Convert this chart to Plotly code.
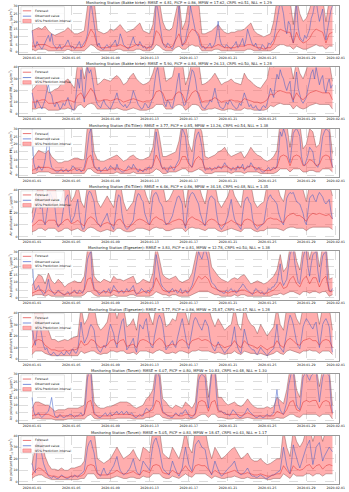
import pandas as pd
import plotly.graph_objects as go
from plotly.subplots import make_subplots

# band/forecast: 8-hourly from 2020-01-01 00:00; observed: 4-hourly.
stations = ["Bakke kirke", "Bakke kirke", "E6-Tiller", "E6-Tiller",
            "Elgeseter", "Elgeseter", "Torvet", "Torvet"]
pollutants = ["2.5", "10", "2.5", "10", "2.5", "10", "2.5", "10"]
rmse = [4.81, 5.90, 3.77, 6.46, 3.83, 5.77, 4.07, 5.05]
picp = [0.86, 0.84, 0.85, 0.86, 0.81, 0.86, 0.80, 0.83]
mpiw = [17.62, 26.13, 13.26, 34.18, 12.78, 25.87, 10.83, 18.47]
crps = [0.51, 0.50, 0.54, 0.48, 0.50, 0.47, 0.48, 0.43]
nll = [1.29, 1.28, 1.38, 1.35, 1.38, 1.28, 1.30, 1.17]
y_max = [30, 40, 30, 40, 30, 40, 30, 40]
y_step = [5, 10, 5, 10, 5, 10, 5, 10]
tick_dates = ["2020-01-01", "2020-01-05", "2020-01-09", "2020-01-13", "2020-01-17",
              "2020-01-21", "2020-01-25", "2020-01-29", "2020-02-01"]

upper_1 = [14, 15, 16, 15, 17, 14, 12, 11, 12, 13,
           14, 16, 14, 12, 12, 13, 14, 30, 36, 34,
           14, 13, 12, 13, 15, 14, 16, 18, 15, 13,
           14, 15, 17, 19, 14, 13, 12, 18, 35, 33,
           20, 15, 14, 16, 25, 35, 15, 20, 34, 36,
           35, 33, 12, 12, 13, 14, 16, 18, 15, 13,
           12, 13, 13, 14, 14, 15, 17, 19, 14, 12,
           11, 10, 11, 12, 20, 34, 36, 35, 33, 34,
           18, 35, 25, 20, 22, 28, 35, 36, 34, 35,
           20, 34, 35]
lower_1 = [2, 1, 2, 2, 2, 1, 1, 1, 1, 1,
           1, 2, 1, 1, 1, 1, 1, 3, 5, 4,
           2, 1, 1, 1, 1, 1, 2, 2, 1, 1,
           1, 1, 2, 2, 1, 1, 1, 2, 5, 4,
           2, 1, 1, 1, 3, 4, 2, 2, 4, 5,
           4, 4, 1, 1, 1, 1, 2, 2, 1, 1,
           1, 1, 1, 1, 1, 1, 2, 2, 1, 1,
           1, 1, 1, 1, 2, 4, 5, 5, 4, 4,
           2, 4, 3, 2, 2, 3, 4, 5, 4, 4,
           2, 4, 4]
forecast_1 = [4, 4, 5, 5, 5, 4, 3, 3, 3, 3,
              4, 4, 4, 3, 3, 3, 4, 10, 15, 12,
              4, 3, 3, 3, 4, 4, 4, 5, 4, 3,
              3, 4, 5, 5, 4, 3, 3, 5, 14, 12,
              6, 4, 3, 4, 8, 12, 5, 6, 12, 15,
              14, 12, 4, 3, 3, 3, 4, 5, 4, 3,
              3, 3, 3, 4, 4, 4, 5, 5, 4, 3,
              3, 2, 3, 3, 6, 12, 15, 14, 13, 13,
              6, 13, 8, 6, 7, 9, 13, 15, 14, 13,
              6, 12, 13]
observed_1 = [14, 6, 3, 7, 5, 3, 2, 4, 6, 9, 11, 7, 12, 5, 4, 2, 3, 5, 2, 3,
              4, 6, 8, 5, 3, 4, 2, 3, 5, 7, 3, 5, 6, 8, 12, 24, 33, 26, 18, 9,
              4, 6, 3, 2, 2, 4, 5, 3, 3, 5, 6, 8, 4, 6, 12, 9, 5, 4, 3, 2,
              4, 7, 10, 6, 5, 4, 7, 5, 3, 4, 2, 3, 4, 3, 6, 14, 32, 28, 20, 12,
              6, 4, 3, 6, 5, 3, 2, 5, 9, 18, 30, 12, 4, 6, 8, 14, 18, 30, 25, 20,
              14, 12, 10, 5, 3, 4, 2, 3, 4, 6, 3, 4, 6, 12, 20, 9, 5, 4, 3, 5,
              4, 3, 2, 4, 5, 7, 3, 4, 6, 9, 4, 8, 15, 11, 8, 5, 4, 6, 3, 2,
              2, 5, 4, 2, 3, 6, 5, 7, 8, 14, 20, 28, 33, 30, 25, 16, 12, 20, 18, 10,
              6, 20, 32, 16, 10, 8, 7, 11, 9, 12, 15, 22, 25, 31, 34, 26, 20, 24, 28, 14,
              8, 15, 22, 27, 30]

upper_2 = [20, 24, 27, 29, 30, 18, 19, 21, 22, 26,
           28, 30, 26, 22, 45, 45, 30, 45, 48, 45,
           25, 27, 30, 29, 28, 31, 33, 30, 25, 27,
           32, 35, 30, 27, 25, 26, 28, 35, 45, 46,
           45, 28, 30, 32, 45, 46, 45, 25, 33, 45,
           48, 45, 25, 26, 28, 31, 35, 30, 25, 27,
           28, 30, 27, 26, 25, 35, 30, 28, 25, 23,
           22, 26, 30, 45, 40, 45, 48, 46, 45, 45,
           30, 45, 35, 30, 38, 45, 46, 48, 45, 45,
           45, 45, 28]
lower_2 = [4, 4, 5, 5, 5, 3, 3, 3, 3, 4,
           4, 5, 4, 3, 7, 8, 5, 8, 9, 8,
           4, 4, 4, 4, 4, 4, 5, 4, 3, 3,
           4, 5, 4, 3, 3, 3, 4, 5, 8, 8,
           8, 4, 4, 4, 7, 8, 7, 3, 5, 8,
           8, 7, 3, 3, 4, 4, 5, 4, 3, 3,
           4, 4, 3, 3, 3, 5, 4, 4, 3, 3,
           3, 3, 4, 7, 6, 8, 9, 8, 8, 8,
           4, 7, 5, 4, 5, 7, 8, 9, 8, 8,
           8, 8, 4]
forecast_2 = [10, 10, 11, 12, 12, 9, 9, 9, 10, 11,
              11, 12, 11, 10, 16, 18, 13, 18, 22, 18,
              11, 11, 12, 12, 11, 12, 13, 12, 10, 11,
              12, 13, 12, 11, 10, 11, 11, 13, 19, 20,
              18, 11, 12, 12, 17, 19, 17, 10, 13, 18,
              20, 18, 10, 11, 11, 12, 14, 12, 10, 11,
              11, 12, 11, 11, 10, 13, 12, 11, 10, 10,
              9, 10, 12, 17, 16, 19, 20, 19, 18, 18,
              12, 18, 14, 12, 15, 18, 19, 20, 19, 18,
              18, 18, 12]
observed_2 = [18, 10, 5, 12, 9, 6, 4, 8, 12, 20, 25, 18, 16, 9, 6, 10, 8, 4, 5, 9,
              7, 11, 14, 8, 6, 3, 4, 16, 30, 22, 38, 20, 10, 28, 40, 35, 38, 30, 22, 12,
              8, 6, 5, 9, 12, 8, 7, 5, 4, 7, 10, 14, 18, 12, 9, 7, 6, 8, 5, 7,
              9, 14, 20, 16, 12, 8, 6, 4, 5, 9, 8, 5, 6, 10, 14, 26, 36, 40, 30, 20,
              15, 9, 6, 12, 10, 6, 5, 11, 18, 28, 35, 20, 12, 7, 8, 16, 25, 33, 38, 36,
              30, 20, 15, 9, 6, 5, 4, 7, 8, 12, 10, 16, 22, 14, 9, 6, 5, 4, 6, 10,
              8, 12, 10, 7, 6, 4, 5, 9, 7, 12, 18, 14, 10, 6, 8, 5, 5, 7, 4, 3,
              3, 6, 7, 5, 9, 15, 22, 18, 14, 26, 34, 30, 38, 33, 30, 24, 20, 25, 28, 14,
              10, 24, 36, 22, 15, 11, 9, 12, 14, 22, 30, 35, 38, 30, 40, 32, 25, 30, 33, 22,
              18, 26, 30, 22, 25]

upper_3 = [10, 13, 16, 15, 14, 16, 12, 10, 8, 8,
           9, 9, 10, 11, 11, 10, 10, 33, 35, 15,
           10, 9, 9, 10, 11, 12, 13, 11, 9, 10,
           12, 13, 11, 10, 10, 11, 12, 18, 35, 25,
           12, 12, 13, 14, 15, 22, 35, 34, 20, 15,
           30, 33, 28, 12, 11, 12, 13, 15, 16, 18,
           14, 12, 13, 14, 15, 11, 14, 18, 15, 13,
           12, 10, 9, 10, 12, 16, 35, 34, 33, 18,
           34, 36, 33, 17, 20, 30, 28, 18, 20, 34,
           36, 33, 14]
lower_3 = [1, 1, 2, 2, 2, 2, 1, 1, 1, 1,
           1, 1, 1, 1, 1, 1, 1, 4, 4, 2,
           1, 1, 1, 1, 1, 1, 2, 1, 1, 1,
           1, 2, 1, 1, 1, 1, 1, 2, 4, 3,
           1, 1, 2, 2, 2, 3, 4, 4, 2, 2,
           3, 4, 3, 1, 1, 1, 2, 2, 2, 2,
           2, 1, 2, 2, 2, 1, 2, 2, 2, 2,
           1, 1, 1, 1, 1, 2, 4, 4, 4, 2,
           4, 4, 4, 2, 2, 3, 3, 2, 2, 4,
           4, 4, 2]
forecast_3 = [3, 4, 5, 5, 5, 5, 4, 3, 3, 3,
              3, 3, 3, 4, 4, 3, 3, 11, 13, 5,
              3, 3, 3, 3, 4, 4, 4, 4, 3, 3,
              4, 4, 4, 3, 3, 4, 4, 6, 13, 9,
              4, 4, 4, 5, 5, 7, 12, 12, 7, 5,
              10, 12, 10, 4, 4, 4, 4, 5, 5, 6,
              5, 4, 4, 5, 5, 4, 5, 6, 5, 4,
              4, 3, 3, 3, 4, 5, 12, 13, 12, 6,
              12, 13, 12, 6, 7, 10, 9, 6, 7, 12,
              13, 12, 5]
observed_3 = [30, 8, 4, 3, 6, 4, 3, 5, 10, 18, 28, 10, 5, 4, 3, 2, 2, 3, 4, 2,
              3, 4, 2, 3, 4, 6, 5, 3, 3, 4, 2, 3, 5, 10, 20, 27, 30, 14, 6, 4,
              3, 5, 2, 3, 4, 5, 3, 4, 6, 5, 4, 3, 7, 4, 3, 2, 2, 3, 4, 6,
              5, 4, 7, 5, 3, 2, 4, 3, 2, 4, 3, 5, 5, 4, 6, 16, 28, 20, 12, 6,
              4, 5, 3, 2, 5, 6, 4, 3, 6, 8, 10, 22, 30, 28, 25, 14, 8, 6, 5, 12,
              22, 26, 28, 24, 18, 7, 3, 4, 4, 5, 3, 4, 5, 4, 6, 5, 4, 6, 8, 6,
              5, 4, 3, 5, 4, 3, 6, 4, 5, 7, 3, 4, 6, 5, 8, 6, 5, 3, 4, 5,
              3, 2, 2, 3, 4, 5, 3, 4, 5, 4, 6, 15, 28, 25, 30, 27, 22, 12, 8, 18,
              27, 29, 30, 28, 25, 12, 7, 6, 9, 13, 18, 16, 15, 8, 6, 5, 8, 16, 25, 28,
              30, 29, 28, 12, 5]

upper_4 = [20, 30, 45, 45, 30, 45, 46, 45, 25, 32,
           45, 46, 30, 35, 45, 30, 25, 45, 48, 46,
           30, 25, 30, 35, 30, 25, 45, 46, 30, 22,
           26, 30, 45, 46, 45, 35, 28, 45, 48, 46,
           45, 30, 32, 38, 45, 46, 45, 25, 45, 48,
           46, 45, 35, 28, 45, 46, 45, 30, 25, 30,
           35, 45, 35, 30, 25, 45, 46, 45, 30, 25,
           28, 30, 45, 46, 45, 45, 35, 30, 45, 46,
           48, 45, 45, 40, 30, 45, 46, 45, 48, 46,
           45, 46, 35]
lower_4 = [4, 5, 7, 7, 5, 7, 7, 7, 4, 5,
           7, 7, 5, 6, 7, 5, 4, 7, 8, 7,
           5, 4, 5, 6, 5, 4, 7, 7, 5, 4,
           4, 5, 7, 7, 7, 6, 5, 7, 8, 7,
           7, 5, 5, 6, 7, 7, 7, 4, 7, 8,
           7, 7, 6, 5, 7, 7, 7, 5, 4, 5,
           6, 7, 6, 5, 4, 7, 7, 7, 5, 4,
           5, 5, 7, 7, 7, 7, 6, 5, 7, 8,
           8, 7, 7, 7, 5, 7, 8, 8, 8, 8,
           8, 8, 6]
forecast_4 = [9, 11, 14, 14, 11, 14, 14, 14, 9, 11,
              14, 15, 11, 12, 14, 11, 9, 15, 17, 15,
              11, 9, 11, 12, 11, 9, 14, 15, 11, 8,
              9, 11, 14, 15, 14, 12, 10, 15, 17, 15,
              14, 11, 11, 13, 14, 15, 14, 9, 15, 17,
              15, 14, 12, 10, 14, 15, 14, 11, 9, 11,
              12, 14, 12, 11, 9, 14, 15, 14, 11, 9,
              10, 11, 15, 16, 15, 15, 13, 12, 17, 19,
              20, 18, 18, 16, 13, 18, 20, 19, 20, 19,
              18, 19, 15]
observed_4 = [12, 16, 22, 30, 35, 24, 28, 14, 10, 20, 30, 38, 35, 30, 25, 12, 8, 10, 12, 22,
              30, 34, 36, 20, 12, 15, 18, 26, 32, 18, 10, 6, 7, 22, 35, 39, 38, 34, 30, 18,
              12, 10, 8, 12, 14, 17, 20, 14, 11, 8, 6, 18, 30, 36, 34, 20, 12, 8, 6, 7,
              9, 11, 14, 25, 33, 37, 36, 32, 30, 20, 15, 12, 10, 24, 34, 37, 38, 35, 30, 28,
              25, 15, 10, 11, 12, 15, 18, 24, 30, 34, 35, 31, 28, 12, 7, 20, 32, 36, 38, 37,
              34, 30, 28, 20, 15, 11, 9, 20, 30, 34, 35, 33, 32, 20, 12, 8, 6, 8, 10, 14,
              18, 26, 32, 22, 15, 12, 10, 7, 6, 20, 30, 33, 34, 30, 28, 16, 10, 7, 6, 8,
              9, 10, 12, 22, 30, 34, 36, 33, 32, 30, 28, 20, 15, 12, 10, 22, 33, 36, 38, 37,
              38, 34, 30, 29, 28, 24, 20, 13, 10, 22, 33, 35, 36, 32, 30, 35, 38, 36, 34, 30,
              28, 30, 32, 22, 15]

upper_5 = [8, 12, 15, 14, 9, 16, 11, 9, 12, 10,
           7, 9, 10, 11, 10, 10, 14, 32, 34, 14,
           11, 10, 12, 11, 10, 14, 12, 12, 11, 12,
           13, 14, 9, 10, 12, 11, 10, 16, 34, 25,
           15, 13, 12, 13, 14, 11, 10, 11, 12, 16,
           26, 36, 33, 36, 32, 20, 17, 14, 12, 11,
           10, 12, 13, 12, 14, 15, 12, 9, 10, 11,
           10, 9, 10, 12, 14, 18, 28, 17, 20, 33,
           36, 24, 18, 33, 36, 25, 34, 35, 20, 34,
           36, 12, 13]
lower_5 = [1, 2, 2, 2, 1, 2, 1, 1, 1, 1,
           1, 1, 1, 1, 1, 1, 2, 4, 4, 2,
           1, 1, 1, 1, 1, 2, 1, 1, 1, 1,
           2, 2, 1, 1, 1, 1, 1, 2, 4, 3,
           2, 2, 1, 2, 2, 1, 1, 1, 1, 2,
           3, 4, 4, 4, 4, 3, 2, 2, 1, 1,
           1, 1, 2, 1, 2, 2, 1, 1, 1, 1,
           1, 1, 1, 1, 2, 2, 3, 2, 3, 4,
           4, 3, 2, 4, 4, 3, 4, 4, 3, 4,
           4, 1, 2]
forecast_5 = [3, 4, 5, 5, 3, 5, 4, 3, 4, 3,
              2, 3, 3, 4, 3, 3, 5, 12, 13, 5,
              4, 3, 4, 4, 3, 5, 4, 4, 4, 4,
              4, 5, 3, 3, 4, 4, 3, 6, 13, 9,
              5, 4, 4, 4, 5, 4, 3, 4, 4, 6,
              10, 14, 12, 14, 12, 7, 6, 5, 4, 4,
              3, 4, 4, 4, 5, 5, 4, 3, 3, 4,
              3, 3, 3, 4, 5, 7, 10, 6, 7, 12,
              14, 9, 7, 12, 14, 9, 13, 13, 7, 12,
              14, 4, 4]
observed_5 = [28, 9, 5, 7, 8, 5, 4, 2, 3, 7, 12, 6, 4, 3, 2, 4, 5, 4, 3, 2,
              2, 3, 4, 2, 3, 4, 5, 3, 3, 5, 4, 3, 6, 14, 25, 28, 30, 12, 6, 5,
              4, 2, 3, 4, 5, 3, 4, 6, 3, 5, 8, 6, 5, 3, 4, 5, 3, 4, 6, 4,
              5, 7, 8, 4, 2, 3, 4, 6, 5, 4, 3, 5, 4, 6, 7, 16, 28, 22, 15, 9,
              7, 6, 5, 4, 3, 5, 6, 4, 5, 3, 4, 6, 3, 4, 5, 3, 4, 6, 8, 12,
              18, 26, 30, 27, 25, 29, 32, 28, 24, 14, 10, 9, 8, 6, 5, 4, 4, 3, 3, 5,
              4, 5, 6, 4, 5, 3, 4, 6, 7, 9, 8, 6, 5, 4, 3, 2, 4, 6, 5, 4,
              3, 4, 2, 3, 4, 6, 5, 7, 7, 9, 10, 16, 22, 12, 8, 10, 12, 20, 28, 31,
              32, 22, 15, 10, 9, 18, 26, 30, 31, 20, 14, 22, 28, 29, 30, 18, 10, 20, 27, 29,
              30, 12, 5, 4, 6]

upper_6 = [24, 45, 46, 45, 30, 25, 17, 17, 15, 16,
           17, 16, 18, 19, 20, 45, 30, 35, 46, 45,
           30, 25, 28, 32, 45, 46, 35, 45, 46, 28,
           30, 35, 25, 45, 46, 45, 38, 30, 45, 48,
           45, 28, 30, 35, 33, 45, 46, 40, 30, 45,
           46, 48, 45, 46, 45, 35, 28, 35, 30, 25,
           28, 30, 45, 30, 25, 45, 35, 30, 28, 22,
           30, 25, 20, 24, 28, 45, 30, 25, 45, 48,
           45, 35, 30, 45, 46, 48, 45, 45, 30, 45,
           46, 45, 25]
lower_6 = [4, 7, 7, 7, 5, 4, 3, 3, 3, 3,
           3, 3, 3, 3, 3, 7, 5, 6, 7, 7,
           5, 4, 5, 5, 7, 7, 6, 7, 7, 5,
           5, 6, 4, 7, 7, 7, 6, 5, 7, 8,
           7, 5, 5, 6, 5, 7, 7, 6, 5, 7,
           7, 8, 7, 7, 7, 6, 5, 6, 5, 4,
           5, 5, 7, 5, 4, 7, 6, 5, 5, 4,
           5, 4, 3, 4, 5, 7, 5, 4, 7, 8,
           7, 6, 5, 7, 7, 8, 7, 7, 5, 7,
           7, 7, 4]
forecast_6 = [10, 16, 17, 16, 12, 10, 8, 8, 7, 7,
              8, 7, 8, 8, 9, 16, 12, 13, 17, 16,
              12, 10, 11, 12, 16, 17, 13, 16, 17, 11,
              12, 13, 10, 16, 17, 16, 14, 12, 16, 18,
              16, 11, 12, 13, 12, 16, 17, 15, 12, 16,
              17, 18, 16, 17, 16, 13, 11, 13, 12, 10,
              11, 12, 16, 12, 10, 16, 13, 12, 11, 9,
              12, 10, 8, 10, 11, 16, 12, 10, 16, 18,
              16, 13, 12, 16, 17, 18, 16, 16, 12, 16,
              17, 16, 10]
observed_6 = [30, 18, 12, 25, 35, 28, 20, 12, 8, 10, 6, 4, 4, 6, 5, 3, 3, 5, 6, 4,
              4, 7, 5, 4, 7, 9, 6, 5, 8, 20, 32, 22, 14, 17, 20, 26, 30, 28, 25, 14,
              9, 7, 6, 9, 12, 10, 15, 24, 30, 26, 22, 14, 10, 20, 28, 33, 35, 18, 8, 10,
              12, 15, 18, 10, 6, 18, 30, 28, 26, 32, 35, 24, 15, 11, 10, 20, 28, 34, 38, 35,
              30, 16, 8, 10, 12, 14, 16, 12, 10, 18, 25, 30, 35, 26, 20, 12, 9, 18, 28, 33,
              36, 34, 30, 27, 25, 30, 34, 31, 28, 18, 12, 9, 7, 11, 15, 12, 10, 7, 5, 7,
              9, 11, 12, 20, 28, 16, 10, 7, 5, 15, 26, 20, 14, 11, 9, 8, 8, 5, 4, 7,
              10, 8, 6, 4, 3, 5, 7, 8, 9, 20, 30, 16, 10, 8, 6, 15, 25, 32, 38, 35,
              30, 22, 15, 11, 9, 18, 28, 32, 35, 33, 30, 28, 26, 30, 32, 20, 10, 20, 30, 33,
              35, 32, 28, 15, 6]

upper_7 = [8, 12, 12, 11, 10, 10, 8, 6, 7, 7,
           7, 8, 8, 8, 8, 9, 10, 34, 35, 12,
           9, 8, 8, 9, 9, 10, 11, 12, 12, 12,
           11, 9, 8, 9, 10, 14, 16, 20, 35, 34,
           14, 12, 9, 8, 10, 9, 8, 12, 10, 8,
           12, 33, 35, 34, 15, 34, 36, 15, 15, 12,
           10, 11, 12, 10, 9, 11, 14, 11, 9, 8,
           8, 8, 9, 8, 9, 15, 13, 11, 20, 34,
           35, 20, 15, 34, 36, 34, 35, 35, 22, 34,
           36, 34, 10]
lower_7 = [1, 1.5, 1.5, 1, 1, 1, 1, 0.5, 0.5, 0.5,
           0.5, 1, 1, 1, 1, 1, 1, 3, 4, 1.5,
           1, 1, 1, 1, 1, 1, 1.5, 1.5, 1.5, 1.5,
           1.5, 1, 1, 1, 1, 2, 2, 2.5, 4, 4,
           2, 1.5, 1, 1, 1, 1, 1, 1.5, 1, 1,
           1.5, 3, 4, 4, 2, 4, 4, 2, 2, 1.5,
           1, 1, 1.5, 1, 1, 1.5, 2, 1.5, 1, 1,
           1, 1, 1, 1, 1, 2, 1.5, 1.5, 2.5, 4,
           4, 2.5, 2, 4, 4, 4, 4, 4, 2.5, 4,
           4, 4, 1]
forecast_7 = [3, 4, 4, 4, 4, 4, 3, 2, 3, 3,
              3, 3, 3, 3, 3, 3, 4, 12, 13, 4,
              3, 3, 3, 3, 3, 4, 4, 4, 4, 4,
              4, 3, 3, 3, 4, 5, 6, 7, 13, 12,
              5, 4, 3, 3, 4, 3, 3, 4, 4, 3,
              4, 12, 13, 12, 6, 12, 13, 6, 6, 4,
              4, 4, 4, 4, 3, 4, 5, 4, 3, 3,
              3, 3, 3, 3, 3, 6, 5, 4, 7, 12,
              13, 7, 6, 12, 13, 12, 13, 13, 8, 12,
              13, 12, 4]
observed_7 = [15, 6, 3, 4, 5, 3, 2, 3, 4, 5, 6, 10, 15, 7, 3, 2, 2, 4, 3, 2,
              2, 3, 3, 4, 4, 3, 2, 3, 3, 4, 5, 3, 4, 15, 28, 31, 32, 14, 5, 4,
              3, 2, 2, 3, 4, 5, 3, 4, 5, 3, 4, 5, 6, 4, 5, 6, 4, 5, 6, 4,
              4, 5, 3, 2, 2, 3, 4, 3, 3, 6, 8, 7, 6, 8, 9, 20, 30, 31, 28, 14,
              6, 5, 4, 3, 3, 2, 2, 4, 5, 4, 3, 5, 4, 6, 7, 5, 3, 2, 2, 3,
              5, 16, 26, 29, 30, 29, 28, 16, 8, 20, 30, 31, 32, 16, 7, 6, 6, 5, 5, 4,
              4, 3, 5, 7, 6, 4, 3, 2, 2, 3, 4, 6, 8, 6, 5, 4, 3, 2, 2, 3,
              3, 2, 2, 3, 4, 3, 3, 4, 5, 12, 20, 11, 7, 5, 4, 8, 12, 22, 30, 32,
              32, 20, 10, 8, 7, 18, 28, 30, 31, 28, 26, 29, 30, 31, 32, 22, 12, 20, 28, 31,
              32, 30, 29, 14, 5]

upper_8 = [15, 30, 38, 36, 22, 15, 11, 11, 10, 12,
           10, 10, 12, 12, 13, 14, 18, 45, 46, 45,
           20, 18, 16, 18, 20, 25, 30, 25, 20, 22,
           24, 28, 22, 18, 30, 28, 25, 45, 46, 45,
           25, 22, 20, 30, 25, 20, 30, 45, 30, 25,
           45, 46, 45, 45, 30, 20, 30, 25, 20, 22,
           25, 28, 30, 25, 20, 22, 25, 20, 18, 18,
           20, 17, 15, 16, 18, 20, 20, 45, 30, 22,
           45, 35, 30, 35, 45, 46, 35, 45, 46, 35,
           45, 46, 45]
lower_8 = [3, 5, 6, 6, 4, 3, 2, 2, 2, 2,
           2, 2, 2, 2, 2, 3, 3, 7, 7, 7,
           3, 3, 3, 3, 3, 4, 5, 4, 3, 3,
           4, 4, 3, 3, 5, 4, 4, 7, 7, 7,
           4, 3, 3, 5, 4, 3, 5, 7, 5, 4,
           7, 7, 7, 7, 5, 3, 5, 4, 3, 3,
           4, 4, 5, 4, 3, 3, 4, 3, 3, 3,
           3, 3, 2, 2, 3, 3, 3, 7, 5, 3,
           7, 5, 5, 5, 7, 7, 5, 7, 7, 5,
           7, 7, 7]
forecast_8 = [6, 10, 12, 11, 8, 6, 5, 5, 4, 5,
              4, 4, 5, 5, 5, 5, 7, 14, 15, 14,
              7, 6, 6, 6, 7, 8, 10, 8, 7, 7,
              8, 9, 7, 6, 10, 9, 8, 14, 15, 14,
              8, 7, 7, 10, 8, 7, 10, 14, 10, 8,
              14, 15, 14, 14, 10, 7, 10, 8, 7, 7,
              8, 9, 10, 8, 7, 7, 8, 7, 6, 6,
              7, 6, 5, 5, 6, 7, 7, 14, 10, 7,
              14, 11, 10, 11, 14, 15, 11, 14, 15, 11,
              14, 15, 14]
observed_8 = [16, 10, 8, 28, 38, 30, 22, 16, 12, 8, 5, 4, 3, 5, 4, 3, 3, 4, 6, 5,
              4, 3, 3, 4, 5, 4, 6, 5, 4, 6, 7, 8, 10, 20, 30, 34, 36, 30, 25, 15,
              8, 6, 5, 9, 12, 8, 6, 7, 9, 12, 14, 18, 22, 15, 10, 8, 6, 7, 8, 10,
              12, 16, 20, 14, 9, 7, 6, 12, 18, 16, 14, 12, 10, 22, 32, 36, 38, 33, 28, 20,
              12, 10, 8, 7, 6, 12, 18, 14, 10, 7, 5, 8, 12, 22, 30, 22, 15, 12, 9, 20,
              32, 34, 36, 33, 30, 29, 28, 20, 12, 9, 6, 12, 18, 14, 10, 7, 5, 6, 8, 10,
              12, 13, 14, 16, 18, 13, 9, 7, 6, 7, 8, 10, 12, 9, 6, 5, 5, 4, 4, 5,
              6, 5, 4, 3, 3, 4, 5, 6, 6, 7, 8, 9, 10, 20, 30, 22, 14, 10, 7, 18,
              32, 26, 20, 16, 12, 17, 22, 26, 30, 33, 36, 25, 15, 22, 30, 32, 34, 26, 18, 22,
              25, 28, 30, 28, 26]

uppers = [upper_1, upper_2, upper_3, upper_4, upper_5, upper_6, upper_7, upper_8]
lowers = [lower_1, lower_2, lower_3, lower_4, lower_5, lower_6, lower_7, lower_8]
forecasts = [forecast_1, forecast_2, forecast_3, forecast_4,
             forecast_5, forecast_6, forecast_7, forecast_8]
observeds = [observed_1, observed_2, observed_3, observed_4,
             observed_5, observed_6, observed_7, observed_8]

times = pd.date_range("2020-01-01", periods=len(upper_1), freq="8h")
times_obs = pd.date_range("2020-01-01", periods=len(observed_1), freq="4h")

RED = "rgba(222,40,40,0.8)"
BLUE = "rgba(60,90,200,0.85)"
BAND = "rgba(255,85,85,0.48)"
EDGE = "rgba(100,40,40,0.7)"
TXT = "#222"
FS = 3.2

titles = [
    f"Monitoring Station ({s}): RMSE = {r:.2f}, PICP = {p:.2f}, MPIW = {m:.2f}, "
    f"CRPS ={c:.2f}, NLL = {n:.2f}"
    for s, r, p, m, c, n in zip(stations, rmse, picp, mpiw, crps, nll)
]

fig = make_subplots(rows=8, cols=1, vertical_spacing=0.0271, subplot_titles=titles)

for k in range(8):
    row = k + 1
    fig.add_trace(go.Scatter(x=times, y=lowers[k], mode="lines",
                             line=dict(color=EDGE, width=0.5), showlegend=False,
                             hoverinfo="skip"), row=row, col=1)
    fig.add_trace(go.Scatter(x=times, y=uppers[k], mode="lines", fill="tonexty",
                             fillcolor=BAND, line=dict(color=EDGE, width=0.5),
                             showlegend=False), row=row, col=1)
    fig.add_trace(go.Scatter(x=times_obs, y=observeds[k], mode="lines",
                             line=dict(color=BLUE, width=0.6), showlegend=False),
                  row=row, col=1)
    fig.add_trace(go.Scatter(x=times, y=forecasts[k], mode="lines",
                             line=dict(color=RED, width=0.6), showlegend=False),
                  row=row, col=1)

    ymax = y_max[k]
    pad = ymax * 0.045
    fig.update_yaxes(row=row, col=1, range=[-pad, ymax],
                     tickvals=list(range(0, ymax + 1, y_step[k])),
                     title=dict(text=f"Air pollutant PM<sub>{pollutants[k]}</sub> (μg/m<sup>3</sup>)",
                                font=dict(size=3.3, color=TXT), standoff=1))
    fig.update_xaxes(row=row, col=1, range=["2019-12-30 16:00", "2020-02-01 08:00"],
                     tickvals=tick_dates, tickformat="%Y-%m-%d")

    # legend box in the upper-left corner of each panel
    sfx = "" if k == 0 else str(row)
    xr, yr = f"x{sfx} domain", f"y{sfx} domain"
    fig.add_shape(type="rect", xref=xr, yref=yr, x0=0.006, x1=0.142, y0=0.64, y1=0.985,
                  fillcolor="rgba(255,255,255,0.85)", line=dict(color="#ccc", width=0.5))
    items = [("Forecast", RED, 0.9), ("Observed value", BLUE, 0.79),
             ("95% Prediction interval", None, 0.69)]
    for label, col, yy in items:
        if col:
            fig.add_shape(type="line", xref=xr, yref=yr, x0=0.012, x1=0.038, y0=yy, y1=yy,
                          line=dict(color=col, width=0.8))
        else:
            fig.add_shape(type="rect", xref=xr, yref=yr, x0=0.012, x1=0.038, y0=yy - 0.035,
                          y1=yy + 0.035, fillcolor=BAND,
                          line=dict(color="rgba(230,60,60,0.8)", width=0.4))
        fig.add_annotation(xref=xr, yref=yr, x=0.043, y=yy, text=label, showarrow=False,
                           xanchor="left", yanchor="middle", font=dict(size=3.1, color=TXT))

fig.update_xaxes(showgrid=True, gridcolor="#dcdcdc", gridwidth=0.5, griddash="dash",
                 showline=True, linecolor="#999", linewidth=0.5, mirror=True,
                 ticks="", tickfont=dict(size=FS, color=TXT), automargin=False, zeroline=False)
fig.update_yaxes(showgrid=True, gridcolor="#dcdcdc", gridwidth=0.5, griddash="dash",
                 showline=True, linecolor="#999", linewidth=0.5, mirror=True,
                 ticks="", tickfont=dict(size=FS, color=TXT), automargin=False, zeroline=False)
for t in titles:
    fig.update_annotations(selector=dict(text=t), font=dict(size=3.7, color=TXT), yshift=-1)

fig.update_layout(
    width=349, height=492,
    margin=dict(l=19, r=10, t=5.5, b=7.5, pad=0),
    plot_bgcolor="white", paper_bgcolor="white",
    font=dict(family="DejaVu Sans", size=FS, color=TXT),
    showlegend=False,
)

# drop the page's default body margin so the 349x492 figure sits at the window origin
fig.write_html("out.html", config={"displayModeBar": False},
               post_script="document.body.style.margin='0px';")
